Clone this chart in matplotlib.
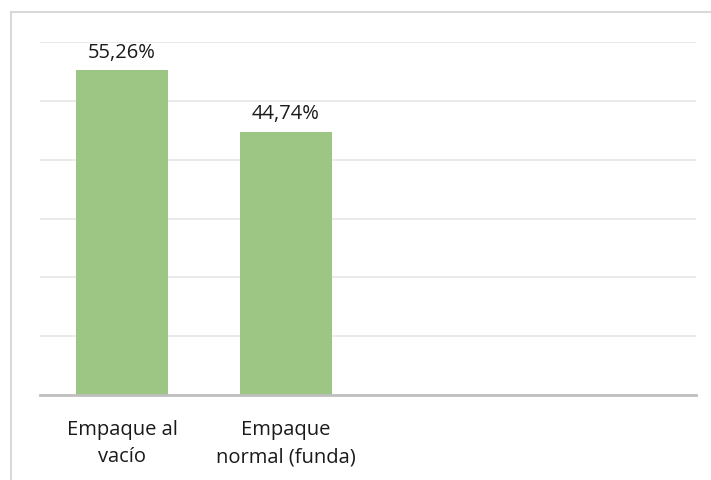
import matplotlib
matplotlib.use("Agg")
import matplotlib.pyplot as plt
from matplotlib.patches import Rectangle

categories = ["Empaque al\nvacío", "Empaque\nnormal (funda)", "", ""]
values = [55.26, 44.74, None, None]
value_labels = ["55,26%", "44,74%"]

plt.rcParams['font.family'] = ['Open Sans', 'DejaVu Sans']

W, H = 711, 481
fig = plt.figure(figsize=(W/100, H/100), dpi=100)
ax = fig.add_axes([40/W, 1-396/H, (696-40)/W, (396-43)/H])

xs = list(range(len(categories)))
for x, v in zip(xs, values):
    if v is not None:
        ax.bar(x, v, width=0.56, color='#9DC583', zorder=2)
for x, v, lab in zip(xs, values, value_labels):
    ax.annotate(lab, (x, v), xytext=(0, 6), textcoords='offset points',
                ha='center', va='bottom', fontsize=14.5, color='#1a1a1a')

ax.set_xlim(-0.5, len(categories)-0.5)
ax.set_ylim(0, 60)
ax.set_yticks(range(0, 61, 10))
ax.yaxis.grid(True, color='#E6E6E6', linewidth=1.2, zorder=0)
ax.tick_params(axis='y', left=False, labelleft=False)
ax.tick_params(axis='x', bottom=False, pad=14)
ax.set_xticks(xs)
ax.set_xticklabels(categories, fontsize=14.5, color='#1a1a1a', linespacing=1.45)
for s in ['top', 'right', 'left']:
    ax.spines[s].set_visible(False)
ax.spines['bottom'].set_color('#BFBFBF')
ax.spines['bottom'].set_linewidth(2.0)
ax.spines['bottom'].set_zorder(3)

fig.patches.append(Rectangle((11/W, -0.2), 1.2, 1.2 - 13/H, transform=fig.transFigure,
                             fill=False, edgecolor='#D9D9D9', linewidth=1.5, zorder=0))

fig.savefig("out.png", dpi=100)
